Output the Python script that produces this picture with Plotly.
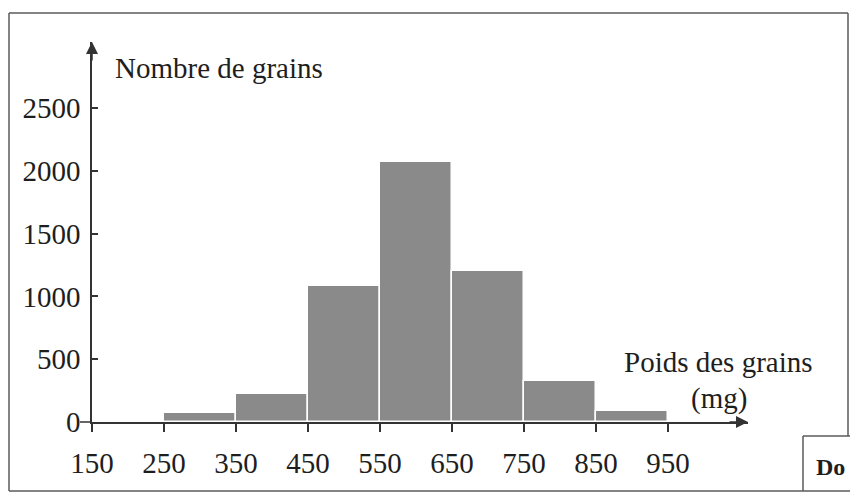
import plotly.graph_objects as go

# Data
class_starts = [250, 350, 450, 550, 650, 750, 850]
class_width = 100
counts = [75, 220, 1080, 2070, 1200, 330, 90]
x_ticks = [150, 250, 350, 450, 550, 650, 750, 850, 950]
y_ticks = [0, 500, 1000, 1500, 2000, 2500]

FONT = "Liberation Serif"
TXT = "#1e1e1e"
FS = 29

centers = [s + class_width / 2 for s in class_starts]

fig = go.Figure()
fig.add_trace(go.Bar(
    x=centers, y=counts, width=[class_width] * len(counts),
    marker=dict(color="#8a8a8a", line=dict(color="white", width=1.5)),
    hoverinfo="skip",
))

L, R, T, B = 92, 102, 42, 73
W, H = 850, 495
pw, ph = W - L - R, H - T - B

def px(xpix):
    return (xpix - L) / pw

def py(ypix):
    return (H - B - ypix) / ph

FRAME = dict(color="#5a5a5a", width=1.5)
shapes = [
    # outer frame: left, top, right (down to box), bottom
    dict(type="line", xref="paper", yref="paper", x0=px(9), x1=px(9), y0=py(491), y1=py(13), line=FRAME),
    dict(type="line", xref="paper", yref="paper", x0=px(9), x1=px(848), y0=py(13), y1=py(13), line=FRAME),
    dict(type="line", xref="paper", yref="paper", x0=px(848), x1=px(848), y0=py(13), y1=py(436), line=FRAME),
    dict(type="line", xref="paper", yref="paper", x0=px(9), x1=px(852), y0=py(491), y1=py(491), line=FRAME),
    # small box bottom right
    dict(type="line", xref="paper", yref="paper", x0=px(803), x1=px(852), y0=py(436), y1=py(436), line=FRAME),
    dict(type="line", xref="paper", yref="paper", x0=px(803), x1=px(803), y0=py(436), y1=py(491), line=FRAME),
    # axis stubs
    dict(type="line", xref="paper", yref="paper", x0=0, x1=0, y0=py(432), y1=0,
         line=dict(color="#333333", width=1.5)),
    dict(type="line", xref="paper", yref="paper", x0=px(80), x1=0, y0=0, y1=0,
         line=dict(color="#333333", width=1.5)),
]

annotations = [
    dict(xref="paper", yref="paper", x=0, y=1, ax=0, ay=20, showarrow=True, text="",
         arrowhead=2, arrowsize=1.6, arrowwidth=1.5, arrowcolor="#333333"),
    dict(xref="paper", yref="paper", x=1, y=0, ax=-20, ay=0, showarrow=True, text="",
         arrowhead=2, arrowsize=1.6, arrowwidth=1.5, arrowcolor="#333333"),
    dict(xref="paper", yref="paper", x=px(113), y=py(68), xanchor="left", yanchor="middle",
         text="Nombre de grains", showarrow=False, font=dict(family=FONT, size=FS, color=TXT)),
    dict(xref="paper", yref="paper", x=px(718), y=py(362), xanchor="center", yanchor="middle",
         text="Poids des grains", showarrow=False, font=dict(family=FONT, size=FS, color=TXT)),
    dict(xref="paper", yref="paper", x=px(719), y=py(398), xanchor="center", yanchor="middle",
         text="(mg)", showarrow=False, font=dict(family=FONT, size=FS, color=TXT)),
    dict(xref="paper", yref="paper", x=px(847), y=py(467), xanchor="right", yanchor="middle",
         text="<b>Do</b>", showarrow=False, font=dict(family=FONT, size=24, color=TXT)),
]

fig.update_layout(
    width=W, height=H,
    margin=dict(l=L, r=R, t=T, b=B, pad=0),
    paper_bgcolor="white", plot_bgcolor="white",
    showlegend=False, bargap=0,
    font=dict(family=FONT, size=FS, color=TXT),
    shapes=shapes, annotations=annotations,
    xaxis=dict(range=[150, 150 + pw / 0.72], tickvals=x_ticks, ticktext=[str(v) for v in x_ticks],
               showline=True, linecolor="#333333", linewidth=1.5, showgrid=False, zeroline=False,
               ticks="outside", ticklen=8, tickwidth=1.5, tickcolor="#333333",
               ticklabelstandoff=6,
               tickfont=dict(family=FONT, size=FS, color=TXT), fixedrange=True),
    yaxis=dict(range=[0, ph / 0.1256], tickvals=y_ticks, ticktext=[str(v) for v in y_ticks],
               showline=True, linecolor="#333333", linewidth=1.5, showgrid=False, zeroline=False,
               ticks="inside", ticklen=6, tickwidth=1.5, tickcolor="#333333",
               ticklabelstandoff=4,
               tickfont=dict(family=FONT, size=FS, color=TXT), fixedrange=True),
)

fig.write_html("out.html", config={"displayModeBar": False},
               post_script="document.body.style.margin='0';")
